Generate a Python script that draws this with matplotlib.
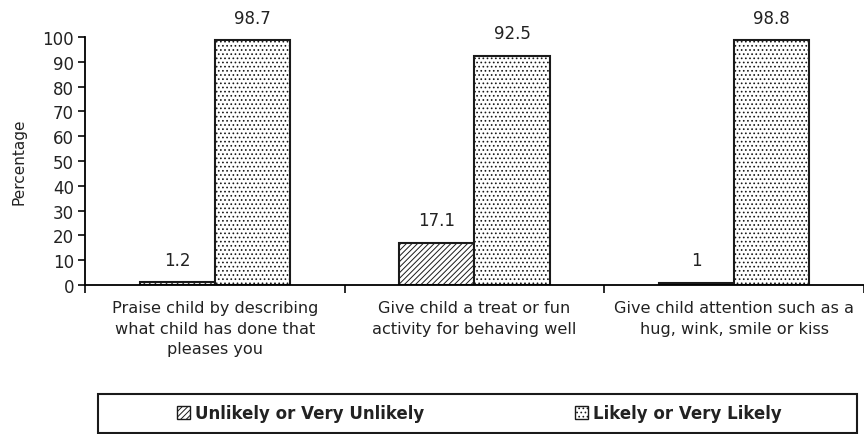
import matplotlib
matplotlib.use("Agg")
import matplotlib.pyplot as plt
import numpy as np
from matplotlib.patches import Patch, Rectangle

categories = ["Praise child by describing\nwhat child has done that\npleases you",
              "Give child a treat or fun\nactivity for behaving well",
              "Give child attention such as a\nhug, wink, smile or kiss"]
unlikely = [1.2, 17.1, 1.0]
likely = [98.7, 92.5, 98.8]
unlikely_labels = ["1.2", "17.1", "1"]
likely_labels = ["98.7", "92.5", "98.8"]
series_names = ["Unlikely or Very Unlikely", "Likely or Very Likely"]
yticks = list(range(0, 101, 10))

plt.rcParams['font.family'] = ['DejaVu Sans']
plt.rcParams['hatch.linewidth'] = 0.7
txt = '#222222'
edge = '#1a1a1a'

fig = plt.figure(figsize=(8.64, 4.35), dpi=100)
ax = fig.add_axes([85/864, 1-286/435, (864-85)/864, (286-38)/435])

x = np.arange(len(categories))
w = 0.29
ax.bar(x - w/2, unlikely, w, facecolor='white', edgecolor=edge, hatch='//////', linewidth=1.5)
ax.bar(x + w/2, likely, w, facecolor='white', edgecolor=edge, hatch='....', linewidth=1.5)

for xi, v, lab in zip(x - w/2, unlikely, unlikely_labels):
    ax.annotate(lab, (xi, v), xytext=(0, 16), textcoords='offset points', ha='center', va='center', fontsize=12, color=txt)
for xi, v, lab in zip(x + w/2, likely, likely_labels):
    ax.annotate(lab, (xi, v), xytext=(0, 16), textcoords='offset points', ha='center', va='center', fontsize=12, color=txt)

ax.set_xlim(-0.5, 2.5)
ax.set_ylim(0, 100)
ax.set_yticks(yticks)
ax.tick_params(axis='y', direction='out', length=5, width=1.3, labelsize=12, colors=edge, labelcolor=txt, pad=3)
ax.set_xticks([-0.5, 0.5, 1.5, 2.5])
ax.set_xticklabels([])
ax.tick_params(axis='x', direction='out', length=6, width=1.3, colors=edge)
ax.set_xticks(x, minor=True)
ax.set_xticklabels(categories, minor=True, fontsize=11.6, color=txt, linespacing=1.45, va='top')
ax.tick_params(axis='x', which='minor', length=0, pad=11)
for s in ['top', 'right']:
    ax.spines[s].set_visible(False)
ax.spines['left'].set_linewidth(1.3)
ax.spines['bottom'].set_linewidth(1.3)
ax.set_ylabel("Percentage", fontsize=11, color=txt)
ax.yaxis.set_label_coords(-59/779, 0.5)

# legend frame
frame = Rectangle((98/864, 1-434/435), (857-98)/864, (434-395)/435,
                  transform=fig.transFigure, facecolor='none', edgecolor=edge, linewidth=1.5)
fig.patches.append(frame)

handles = [Patch(facecolor='white', edgecolor=edge, hatch='//////', linewidth=1),
           Patch(facecolor='white', edgecolor=edge, hatch='....', linewidth=1)]
leg = fig.legend(handles, series_names, loc='center',
                 bbox_to_anchor=(479.5/864, 1-414.5/435),
                 ncol=2, frameon=False,
                 prop={'weight': 'bold', 'size': 12}, handlelength=0.8, handleheight=0.8,
                 handletextpad=0.3, columnspacing=9.0, borderaxespad=0, borderpad=0,
                 labelcolor=txt)

fig.savefig("out.png", dpi=100)
